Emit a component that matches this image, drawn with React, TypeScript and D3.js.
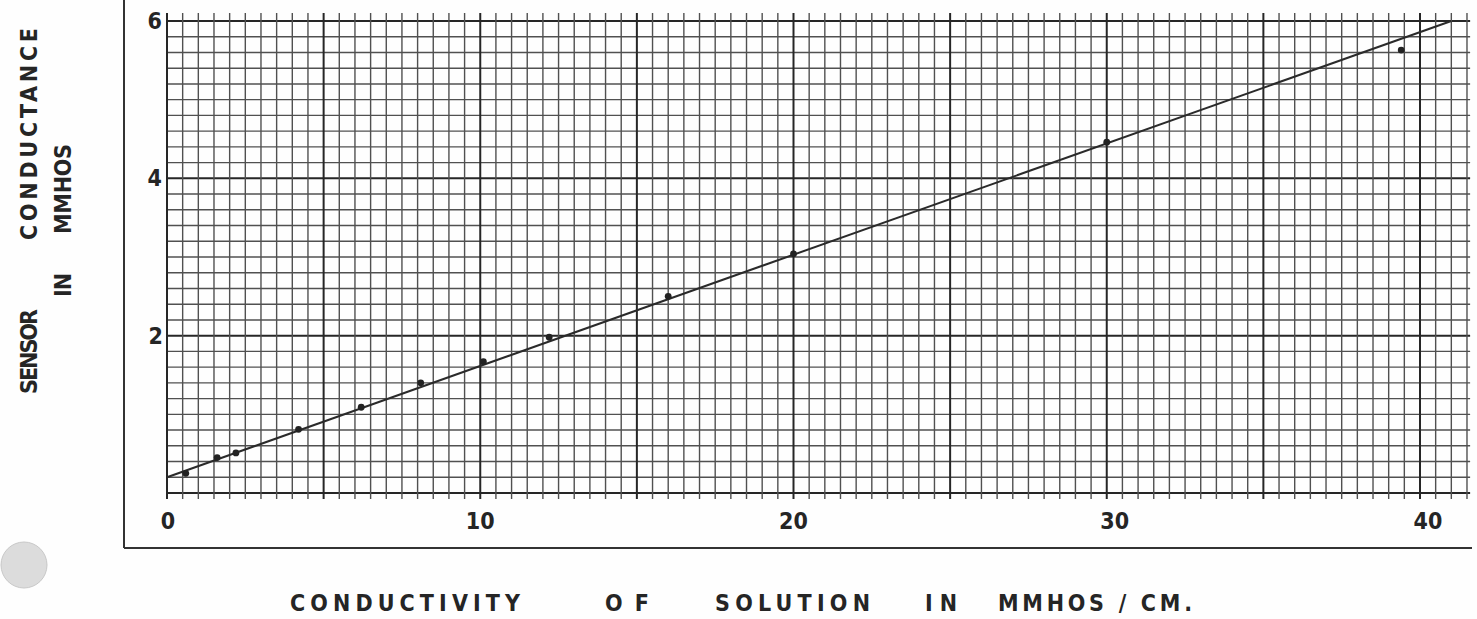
import React from "react";
import * as d3 from "d3";

const xTickLabels = [0, 10, 20, 30, 40];
const yTickLabels = [2, 4, 6];
const conductivity = [0.6, 1.6, 2.2, 4.2, 6.2, 8.1, 10.1, 12.2, 16, 20, 30, 39.4];
const conductance = [0.25, 0.45, 0.51, 0.81, 1.09, 1.4, 1.67, 1.98, 2.5, 3.04, 4.46, 5.63];
const fitX = [0, 41];
const fitY = [0.2, 6.0];
const xTitleWords = ["CONDUCTIVITY", "OF", "SOLUTION", "IN", "MMHOS / CM."];
const yTitleLine1 = ["SENSOR", "CONDUCTANCE"];
const yTitleLine2 = ["IN", "MMHOS"];

const W = 1477;
const H = 619;
const FONT = "'Liberation Sans Narrow', 'DejaVu Sans Condensed', 'Liberation Sans', Arial, sans-serif";

export default function App() {
  const x = d3.scaleLinear().domain([0, 40]).range([167, 1420]);
  const y = d3.scaleLinear().domain([0, 6]).range([493, 21]);

  const vLines = d3.range(0, 41.51, 0.5);
  const hLines = d3.range(0, 30.01, 1).map((i) => i * 0.2);

  const gridRight = x(41.6);
  const line = d3
    .line<number>()
    .x((d) => x(d))
    .y((d, i) => y(fitY[i]));

  const xWordPos = [
    { x: 290, len: 230 },
    { x: 605, len: 44 },
    { x: 715, len: 155 },
    { x: 925, len: 32 },
    { x: 998, len: 194 },
  ];

  const titleStyle = {
    fontFamily: FONT,
    fontWeight: "bold" as const,
    fontSize: 23,
    fill: "#252525",
  };

  return (
    <svg
      width={W}
      height={H}
      viewBox={`0 0 ${W} ${H}`}
      style={{ position: "absolute", left: 0, top: 0, background: "#fff" }}
    >
      <rect x={0} y={0} width={W} height={H} fill="#fefefe" />
      {/* punch hole */}
      <circle cx={24} cy={565} r={23} fill="#dcdcdc" stroke="#c8c8c8" strokeWidth={1} />

      {/* outer frame */}
      <line x1={124} y1={0} x2={124} y2={548} stroke="#333" strokeWidth={2} />
      <line x1={124} y1={548} x2={1472} y2={548} stroke="#333" strokeWidth={2.2} />

      {/* grid */}
      <g>
        {hLines.map((v, i) => {
          const major = Math.round(v * 10) % 20 === 0;
          return (
            <line
              key={"h" + i}
              x1={x(0)}
              x2={gridRight}
              y1={y(v)}
              y2={y(v)}
              stroke={major ? "#262626" : "#505050"}
              strokeWidth={major ? 2 : 1.4}
            />
          );
        })}
        {vLines.map((v, i) => {
          const major = Math.round(v * 10) % 50 === 0;
          return (
            <line
              key={"v" + i}
              x1={x(v)}
              x2={x(v)}
              y1={13}
              y2={499}
              stroke={major ? "#262626" : "#505050"}
              strokeWidth={major ? 2 : 1.4}
            />
          );
        })}
      </g>

      {/* fit line */}
      <path d={line(fitX) || ""} fill="none" stroke="#2a2a2a" strokeWidth={2} />

      {/* data points */}
      {conductivity.map((c, i) => (
        <circle key={"p" + i} cx={x(c)} cy={y(conductance[i])} r={3.4} fill="#222" />
      ))}

      {/* tick labels */}
      {xTickLabels.map((t) => (
        <text
          key={"xt" + t}
          x={x(t) + (t === 0 ? 1 : t >= 30 ? 8 : 0)}
          y={529}
          textAnchor="middle"
          {...titleStyle}
        >
          {t}
        </text>
      ))}
      {yTickLabels.map((t) => (
        <text key={"yt" + t} x={t === 2 ? 163 : 162} y={y(t) + 8} textAnchor="end" {...titleStyle}>
          {t}
        </text>
      ))}

      {/* x title */}
      {xTitleWords.map((w, i) => (
        <text
          key={"xw" + i}
          x={xWordPos[i].x}
          y={611}
          textLength={xWordPos[i].len}
          lengthAdjust="spacing"
          {...titleStyle}
        >
          {w}
        </text>
      ))}

      {/* y title */}
      <g transform="translate(37,0) rotate(-90)">
        <text x={-394} y={0} textLength={85} lengthAdjust="spacing" {...titleStyle}>
          {yTitleLine1[0]}
        </text>
        <text x={-240} y={0} textLength={212} lengthAdjust="spacing" {...titleStyle}>
          {yTitleLine1[1]}
        </text>
      </g>
      <g transform="translate(71,0) rotate(-90)">
        <text x={-297} y={0} textLength={24} lengthAdjust="spacing" {...titleStyle}>
          {yTitleLine2[0]}
        </text>
        <text x={-234} y={0} textLength={90} lengthAdjust="spacing" {...titleStyle}>
          {yTitleLine2[1]}
        </text>
      </g>
    </svg>
  );
}
